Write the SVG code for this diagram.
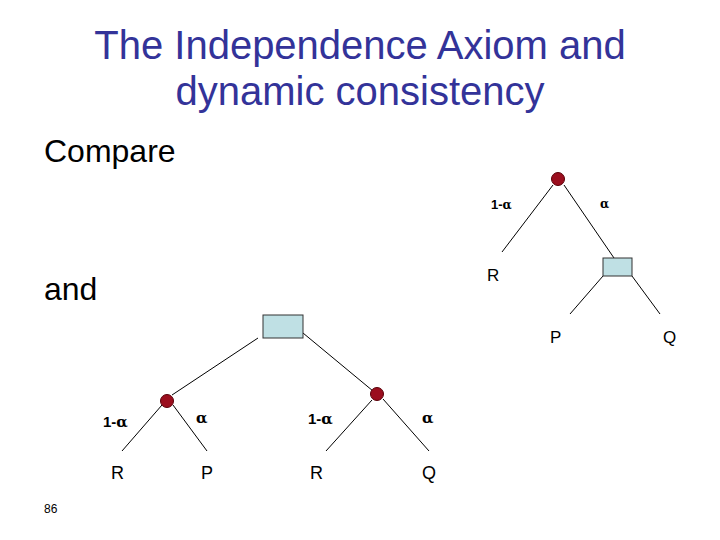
<svg xmlns="http://www.w3.org/2000/svg" width="720" height="540" viewBox="0 0 720 540">
<style>
.title{font-family:"Liberation Sans",Arial,sans-serif;font-size:40px;fill:#333399;text-anchor:middle}
.body{font-family:"Liberation Sans",Arial,sans-serif;font-size:32px;fill:#000}
.lbl{font-family:"Liberation Sans",Arial,sans-serif;fill:#000}
.prob{font-family:"Liberation Sans",Arial,sans-serif;font-weight:bold;fill:#000}
.al{font-family:"DejaVu Serif","Liberation Serif",serif;font-weight:bold}
.edge{stroke:#000;stroke-width:1;fill:none}
.chance{fill:#9B0E1E;stroke:#5A0008;stroke-width:1}
.dec{fill:#BFE0E4;stroke:#333;stroke-width:1}
</style>
<rect width="720" height="540" fill="#fff"/>
<text class="title" x="360" y="59">The Independence Axiom and</text>
<text class="title" x="360" y="105">dynamic consistency</text>
<text class="body" x="44" y="162">Compare</text>
<text class="body" x="44" y="300">and</text>
<text class="lbl" x="44" y="513" font-size="12">86</text>

<g id="connectors">
<line class="edge" x1="553" y1="185" x2="502" y2="252"/>
<line class="edge" x1="564" y1="185" x2="614" y2="258"/>
<line class="edge" x1="603" y1="276" x2="570" y2="314"/>
<line class="edge" x1="632" y1="276" x2="660" y2="314"/>
<line class="edge" x1="258" y1="338" x2="172" y2="395"/>
<line class="edge" x1="303" y1="333" x2="373" y2="391"/>
<line class="edge" x1="162" y1="405" x2="122" y2="451"/>
<line class="edge" x1="173" y1="405" x2="207" y2="451"/>
<line class="edge" x1="372" y1="400" x2="326" y2="451"/>
<line class="edge" x1="383" y1="399" x2="429" y2="451"/>
</g>

<g id="top-chance"><circle class="chance" cx="558" cy="179" r="6.5"/></g>
<g id="top-decision"><rect class="dec" x="603" y="258" width="29" height="18"/></g>
<g id="top-labels">
<text class="prob" x="491" y="209" font-size="13">1-<tspan class="al" font-size="12">α</tspan></text>
<text class="prob" x="600" y="208" font-size="13"><tspan class="al" font-size="12">α</tspan></text>
<text class="lbl" x="487" y="281" font-size="17">R</text>
<text class="lbl" x="550" y="343" font-size="17">P</text>
<text class="lbl" x="663" y="343" font-size="17">Q</text>
</g>

<g id="bottom-decision"><rect class="dec" x="263" y="315" width="40" height="23"/></g>
<g id="bottom-chance-left"><circle class="chance" cx="167" cy="401" r="6.5"/></g>
<g id="bottom-chance-right"><circle class="chance" cx="377" cy="394" r="6.5"/></g>
<g id="bottom-labels">
<text class="prob" x="103" y="427" font-size="15">1-<tspan class="al" font-size="15">α</tspan></text>
<text class="prob" x="196" y="423" font-size="15"><tspan class="al" font-size="15">α</tspan></text>
<text class="prob" x="308" y="424" font-size="15">1-<tspan class="al" font-size="15">α</tspan></text>
<text class="prob" x="422" y="423" font-size="15"><tspan class="al" font-size="15">α</tspan></text>
<text class="lbl" x="111" y="479" font-size="18">R</text>
<text class="lbl" x="201" y="479" font-size="18">P</text>
<text class="lbl" x="310" y="479" font-size="18">R</text>
<text class="lbl" x="422" y="479" font-size="18">Q</text>
</g>
</svg>
